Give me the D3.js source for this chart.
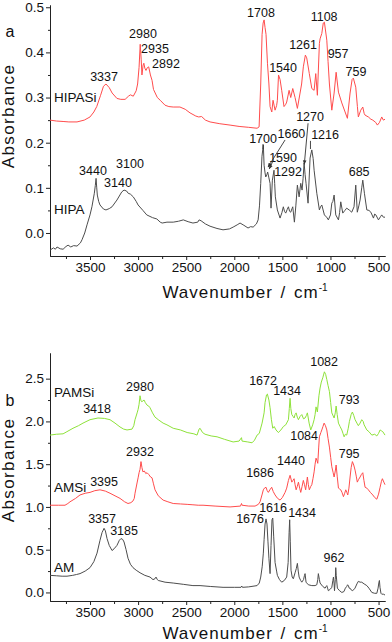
<!DOCTYPE html>
<html><head><meta charset="utf-8">
<script src="https://cdn.jsdelivr.net/npm/d3@7"></script>
<style>
html,body{margin:0;padding:0;background:#fff;}
svg{display:block;font-family:"Liberation Sans",Arial,sans-serif;}
</style></head><body>
<svg id="c" width="392" height="642"></svg>
<script>
// ---------- data (wavenumber cm-1, absorbance) ----------
const hipasi = [[3916,0.250],[3850,0.248],[3780,0.247],[3720,0.246],[3635,0.246],[3560,0.250],[3500,0.257],[3460,0.268],[3430,0.280],[3390,0.305],[3360,0.325],[3334,0.330],[3300,0.322],[3270,0.310],[3220,0.298],[3180,0.296],[3135,0.296],[3100,0.303],[3080,0.306],[3050,0.303],[3020,0.315],[3005,0.330],[2990,0.367],[2978,0.418],[2968,0.385],[2960,0.350],[2948,0.372],[2940,0.376],[2930,0.365],[2918,0.360],[2905,0.366],[2890,0.368],[2872,0.350],[2855,0.338],[2840,0.318],[2800,0.300],[2770,0.294],[2720,0.283],[2680,0.280],[2635,0.279],[2565,0.279],[2510,0.274],[2460,0.266],[2400,0.259],[2370,0.257],[2340,0.258],[2300,0.250],[2252,0.246],[2150,0.242],[2044,0.239],[1950,0.236],[1850,0.234],[1763,0.232],[1742,0.235],[1725,0.330],[1711,0.440],[1700,0.465],[1690,0.472],[1680,0.455],[1670,0.440],[1655,0.376],[1640,0.330],[1628,0.280],[1610,0.268],[1597,0.294],[1576,0.272],[1560,0.282],[1552,0.294],[1540,0.350],[1524,0.340],[1507,0.316],[1483,0.280],[1465,0.285],[1455,0.290],[1430,0.316],[1413,0.300],[1392,0.320],[1380,0.310],[1368,0.300],[1344,0.276],[1316,0.310],[1300,0.330],[1282,0.368],[1261,0.394],[1247,0.388],[1220,0.353],[1194,0.320],[1170,0.316],[1153,0.353],[1136,0.305],[1115,0.420],[1108,0.430],[1090,0.442],[1075,0.465],[1063,0.467],[1038,0.427],[1025,0.380],[1011,0.330],[986,0.272],[962,0.310],[941,0.356],[917,0.312],[882,0.288],[848,0.268],[824,0.254],[796,0.310],[775,0.340],[762,0.343],[737,0.323],[720,0.280],[710,0.257],[685,0.272],[664,0.279],[650,0.265],[640,0.261],[606,0.257],[580,0.252],[560,0.250],[530,0.245],[512,0.239],[490,0.245],[467,0.257],[450,0.250],[433,0.252]];

const hipa = [[3916,-0.038],[3880,-0.033],[3860,-0.036],[3843,-0.031],[3810,-0.035],[3780,-0.036],[3750,-0.030],[3728,-0.027],[3700,-0.031],[3670,-0.028],[3635,-0.029],[3600,-0.022],[3583,-0.015],[3555,0.000],[3531,0.018],[3500,0.040],[3480,0.058],[3455,0.088],[3445,0.105],[3437,0.121],[3430,0.100],[3424,0.084],[3410,0.070],[3396,0.062],[3360,0.053],[3334,0.051],[3300,0.054],[3271,0.058],[3220,0.073],[3170,0.091],[3146,0.095],[3120,0.093],[3103,0.088],[3080,0.086],[3050,0.080],[3020,0.070],[3000,0.062],[2950,0.050],[2910,0.040],[2850,0.034],[2805,0.031],[2770,0.024],[2750,0.022],[2700,0.024],[2635,0.024],[2580,0.026],[2530,0.029],[2480,0.025],[2430,0.022],[2380,0.024],[2366,0.029],[2345,0.027],[2300,0.020],[2252,0.015],[2180,0.010],[2117,0.007],[2050,0.009],[2012,0.013],[1970,0.018],[1940,0.022],[1900,0.017],[1857,0.011],[1830,0.014],[1804,0.013],[1770,0.020],[1752,0.029],[1738,0.060],[1725,0.110],[1712,0.170],[1698,0.195],[1690,0.150],[1680,0.133],[1673,0.124],[1660,0.130],[1653,0.135],[1640,0.122],[1628,0.110],[1618,0.055],[1604,0.117],[1587,0.139],[1580,0.110],[1573,0.080],[1552,0.051],[1524,0.033],[1505,0.045],[1490,0.058],[1478,0.048],[1465,0.044],[1450,0.052],[1437,0.058],[1425,0.048],[1413,0.046],[1400,0.054],[1392,0.058],[1375,0.024],[1360,0.060],[1344,0.106],[1326,0.080],[1309,0.110],[1295,0.095],[1285,0.120],[1274,0.155],[1264,0.130],[1254,0.110],[1233,0.066],[1212,0.166],[1194,0.184],[1180,0.165],[1170,0.139],[1142,0.088],[1115,0.051],[1103,0.058],[1090,0.062],[1063,0.040],[1040,0.035],[1022,0.029],[1000,0.040],[986,0.066],[975,0.070],[962,0.084],[945,0.040],[917,0.029],[905,0.045],[893,0.069],[872,0.044],[850,0.050],[831,0.055],[800,0.050],[779,0.046],[755,0.058],[737,0.106],[721,0.046],[705,0.060],[692,0.073],[675,0.100],[664,0.117],[647,0.088],[622,0.051],[600,0.050],[580,0.046],[553,0.033],[540,0.042],[528,0.040],[501,0.029],[480,0.036],[467,0.040],[450,0.035],[433,0.035]];

const pamsi = [[3916,1.84],[3850,1.85],[3780,1.855],[3740,1.88],[3677,1.92],[3620,1.95],[3573,1.98],[3500,2.02],[3417,2.04],[3350,2.035],[3292,2.02],[3240,1.98],[3188,1.935],[3150,1.91],[3115,1.90],[3063,1.91],[3045,1.95],[3032,2.02],[3010,2.10],[3000,2.14],[2990,2.20],[2980,2.30],[2970,2.24],[2960,2.23],[2950,2.24],[2938,2.25],[2925,2.22],[2907,2.19],[2890,2.18],[2876,2.16],[2850,2.10],[2824,2.05],[2790,2.02],[2740,1.98],[2700,1.96],[2635,1.92],[2560,1.90],[2490,1.87],[2420,1.855],[2387,1.84],[2366,1.91],[2356,1.92],[2330,1.87],[2304,1.85],[2240,1.83],[2179,1.82],[2100,1.79],[2012,1.76],[1950,1.77],[1925,1.81],[1919,1.77],[1860,1.76],[1815,1.75],[1790,1.78],[1763,1.84],[1740,1.86],[1711,1.98],[1690,2.10],[1680,2.22],[1665,2.31],[1656,2.32],[1640,2.25],[1628,2.16],[1614,2.02],[1600,1.92],[1585,1.94],[1566,1.90],[1542,1.87],[1515,1.90],[1490,1.94],[1465,1.96],[1437,2.02],[1428,2.15],[1420,2.27],[1412,2.15],[1402,2.08],[1390,2.06],[1378,2.04],[1368,2.08],[1357,2.10],[1345,2.05],[1333,2.02],[1315,2.06],[1298,2.08],[1280,2.03],[1264,2.04],[1250,2.07],[1240,2.10],[1222,1.98],[1205,1.90],[1185,1.96],[1170,2.02],[1160,2.08],[1150,2.17],[1136,2.11],[1120,2.30],[1108,2.39],[1095,2.46],[1080,2.51],[1063,2.58],[1050,2.55],[1038,2.49],[1025,2.42],[1011,2.35],[998,2.22],[986,2.10],[962,2.04],[950,2.10],[941,2.18],[930,2.08],[917,1.98],[900,1.94],[882,1.90],[870,1.86],[858,1.82],[845,1.85],[831,1.84],[815,1.92],[803,2.00],[785,2.08],[772,2.11],[758,2.07],[744,2.02],[725,1.98],[710,1.95],[692,1.98],[675,2.02],[660,2.00],[650,1.96],[622,1.90],[600,1.88],[570,1.84],[540,1.85],[518,1.83],[500,1.86],[484,1.90],[470,1.89],[456,1.88],[433,1.84]];

const amsi = [[3916,1.02],[3830,1.02],[3760,1.02],[3730,1.04],[3708,1.06],[3650,1.10],[3604,1.14],[3550,1.16],[3500,1.17],[3450,1.19],[3396,1.20],[3340,1.185],[3292,1.16],[3240,1.13],[3188,1.10],[3140,1.06],[3105,1.04],[3075,1.05],[3053,1.07],[3040,1.10],[3032,1.16],[3011,1.28],[3000,1.34],[2990,1.40],[2980,1.44],[2970,1.53],[2960,1.46],[2950,1.41],[2935,1.42],[2920,1.39],[2907,1.40],[2890,1.38],[2870,1.35],[2855,1.34],[2840,1.27],[2824,1.20],[2790,1.13],[2740,1.08],[2690,1.06],[2635,1.04],[2560,1.035],[2490,1.03],[2430,1.025],[2375,1.02],[2325,1.02],[2200,1.01],[2044,1.00],[1935,1.01],[1925,1.04],[1919,1.02],[1850,1.01],[1784,1.01],[1750,1.03],[1732,1.06],[1712,1.14],[1698,1.20],[1686,1.22],[1670,1.23],[1658,1.19],[1646,1.17],[1630,1.20],[1611,1.23],[1595,1.18],[1576,1.14],[1550,1.10],[1524,1.08],[1500,1.11],[1472,1.17],[1455,1.22],[1437,1.31],[1420,1.37],[1402,1.29],[1390,1.31],[1378,1.33],[1368,1.26],[1357,1.20],[1345,1.24],[1333,1.29],[1320,1.22],[1309,1.17],[1295,1.24],[1282,1.31],[1270,1.26],[1258,1.20],[1248,1.28],[1240,1.35],[1230,1.26],[1220,1.20],[1205,1.24],[1194,1.26],[1182,1.33],[1170,1.41],[1160,1.50],[1150,1.57],[1140,1.54],[1132,1.51],[1122,1.70],[1115,1.82],[1100,1.87],[1090,1.90],[1078,1.94],[1066,1.98],[1052,1.95],[1038,1.90],[1025,1.80],[1011,1.70],[998,1.58],[986,1.47],[972,1.40],[962,1.35],[950,1.42],[941,1.49],[930,1.36],[917,1.22],[905,1.21],[893,1.20],[880,1.17],[865,1.12],[852,1.16],[841,1.20],[830,1.17],[820,1.14],[808,1.22],[796,1.35],[785,1.46],[772,1.53],[758,1.49],[744,1.43],[732,1.36],[721,1.29],[708,1.32],[692,1.35],[678,1.38],[664,1.40],[652,1.31],[640,1.23],[622,1.22],[606,1.20],[585,1.17],[560,1.14],[540,1.11],[518,1.09],[500,1.15],[484,1.23],[470,1.30],[460,1.33],[445,1.29],[433,1.26]];

const am = [[3916,0.20],[3850,0.195],[3790,0.19],[3739,0.19],[3680,0.20],[3640,0.21],[3604,0.22],[3550,0.25],[3500,0.29],[3460,0.36],[3427,0.46],[3396,0.61],[3375,0.70],[3354,0.75],[3340,0.72],[3323,0.63],[3300,0.55],[3271,0.49],[3250,0.51],[3220,0.55],[3195,0.61],[3178,0.63],[3160,0.62],[3146,0.59],[3125,0.50],[3105,0.40],[3080,0.33],[3053,0.29],[3020,0.26],[2980,0.23],[2930,0.20],[2876,0.18],[2845,0.15],[2825,0.16],[2814,0.18],[2800,0.15],[2790,0.14],[2720,0.12],[2635,0.11],[2530,0.095],[2430,0.08],[2356,0.08],[2250,0.07],[2117,0.06],[2000,0.06],[1930,0.06],[1922,0.075],[1915,0.06],[1850,0.065],[1763,0.08],[1740,0.11],[1725,0.18],[1710,0.30],[1698,0.46],[1690,0.62],[1680,0.80],[1670,0.86],[1660,0.80],[1650,0.60],[1640,0.40],[1628,0.22],[1618,0.55],[1608,0.85],[1600,0.87],[1590,0.65],[1576,0.35],[1560,0.25],[1552,0.20],[1530,0.15],[1507,0.12],[1480,0.14],[1455,0.18],[1440,0.35],[1430,0.70],[1424,0.85],[1418,0.60],[1410,0.26],[1398,0.18],[1386,0.16],[1368,0.23],[1355,0.28],[1344,0.34],[1335,0.25],[1326,0.18],[1310,0.14],[1298,0.12],[1280,0.15],[1270,0.20],[1264,0.22],[1254,0.12],[1230,0.09],[1194,0.08],[1160,0.08],[1142,0.09],[1132,0.15],[1126,0.22],[1115,0.15],[1108,0.11],[1080,0.07],[1056,0.05],[1045,0.07],[1038,0.08],[1030,0.05],[1022,0.02],[1000,0.04],[986,0.06],[975,0.14],[969,0.18],[962,0.10],[958,0.02],[950,0.15],[945,0.29],[940,0.20],[928,0.05],[905,0.02],[882,0.00],[860,0.01],[845,0.05],[831,0.07],[822,0.09],[814,0.08],[805,0.05],[796,0.05],[785,0.03],[769,0.02],[745,0.05],[725,0.10],[710,0.13],[692,0.12],[675,0.12],[650,0.10],[622,0.08],[600,0.05],[570,0.00],[540,-0.01],[518,-0.01],[505,0.05],[496,0.12],[491,0.14],[485,0.06],[475,-0.01],[467,-0.02],[450,-0.02],[433,-0.03]];

const xTicksMajor = [3500,3000,2500,2000,1500,1000,500];
const xTicksMinor = [3750,3250,2750,2250,1750,1250,750];
const yTicksA = [0.0,0.1,0.2,0.3,0.4,0.5];
const yTicksAMinor = [0.05,0.15,0.25,0.35,0.45];
const yTicksB = [0.0,0.5,1.0,1.5,2.0,2.5];
const yTicksBMinor = [0.25,0.75,1.25,1.75,2.25];

const seriesNamesA = [["HIPASi",0.30],["HIPA",0.053]];
const seriesNamesB = [["PAMSi",2.34],["AMSi",1.23],["AM",0.29]];

const peaksA = [["3337",3354,0.347],["2980",2949,0.442],["2935",2824,0.408],["2892",2710,0.376],["1708",1722,0.489],["1108",1066,0.48],["1261",1285,0.418],["957",921,0.398],["1540",1493,0.367],["759",734,0.358],["3440",3469,0.139],["3100",3084,0.153],["3140",3209,0.111],["1700",1701,0.21],["1660",1406,0.221],["1270",1212,0.257],["1216",1056,0.217],["1590",1493,0.168],["1292",1441,0.135],["685",702,0.135]];
const leadersA = [[1701,0.197,1701,0.186,0],[1472,0.206,1649,0.146,1],[1597,0.160,1636,0.142,1],[1233,0.243,1272,0.152,1],[1208,0.204,1208,0.186,0]];
const peaksB = [["3418",3427,2.15],["2980",2980,2.41],["1672",1701,2.48],["1434",1451,2.36],["1082",1066,2.70],["793",806,2.26],["3395",3354,1.30],["2932",2980,1.65],["1686",1732,1.40],["1440",1410,1.54],["1084",1274,1.83],["795",806,1.62],["3357",3375,0.86],["3185",3146,0.72],["1676",1836,0.86],["1616",1597,0.99],["1434",1295,0.93],["962",963,0.41]];

// ---------- drawing ----------
const RED="#ff4c4c", GRAY="#4d4d4d", GREEN="#8ee23a";
const svg = d3.select("#c");
svg.append("defs").append("marker").attr("id","arr").attr("viewBox","0 0 10 10")
  .attr("refX",9).attr("refY",5).attr("markerWidth",5).attr("markerHeight",5).attr("orient","auto")
  .append("path").attr("d","M0,1L10,5L0,9Z").attr("fill","#333");

const x = d3.scaleLinear().domain([3916,433]).range([50,385]);

function panel(y, yMaj, yMin, fmt, series, names, peaks, leaders, letter, letterY, absY, titleY){
  const g = svg.append("g");
  const y0 = y.range()[0];
  g.append("g").attr("transform",`translate(0,${y0})`)
    .call(d3.axisBottom(x).tickValues(xTicksMajor).tickFormat(d3.format("d")).tickSize(4).tickSizeOuter(0).tickPadding(2));
  g.append("g").attr("transform",`translate(0,${y0})`)
    .call(d3.axisBottom(x).tickValues(xTicksMinor).tickFormat("").tickSize(3).tickSizeOuter(0));
  g.append("g").attr("transform","translate(50,0)")
    .call(d3.axisLeft(y).tickValues(yMaj).tickFormat(fmt).tickSize(4).tickSizeOuter(0).tickPadding(2));
  g.append("g").attr("transform","translate(50,0)")
    .call(d3.axisLeft(y).tickValues(yMin).tickFormat("").tickSize(2).tickSizeOuter(0));
  g.selectAll(".domain, .tick line").attr("stroke","#222");
  g.selectAll(".tick text").attr("font-size","13.5px").attr("fill","#111")
    .attr("font-family",'"Liberation Sans",Arial,sans-serif');
  const line = d3.line().x(d=>x(d[0])).y(d=>y(d[1]));
  series.forEach(s=>{
    g.append("path").datum(s.data).attr("d",line).attr("fill","none")
     .attr("stroke",s.color).attr("stroke-width",1).attr("stroke-linejoin","round");
  });
  names.forEach(n=>{
    g.append("text").attr("x",x(3874)).attr("y",y(n[1])).attr("dy","0.35em")
     .attr("font-size","13.5px").attr("fill","#111").text(n[0]);
  });
  peaks.forEach(p=>{
    g.append("text").attr("x",x(p[1])).attr("y",y(p[2])).attr("dy","0.35em")
     .attr("text-anchor","middle").attr("font-size","12.5px").attr("fill","#111").text(p[0]);
  });
  leaders.forEach(l=>{
    const ln = g.append("line").attr("x1",x(l[0])).attr("y1",y(l[1])).attr("x2",x(l[2])).attr("y2",y(l[3]))
      .attr("stroke","#333").attr("stroke-width",0.9);
    if(l[4]) ln.attr("marker-end","url(#arr)");
  });
  g.append("text").attr("x",10).attr("y",letterY).attr("dy","0.35em").attr("text-anchor","middle")
    .attr("font-size","16px").attr("fill","#111").text(letter);
  g.append("text").attr("transform",`translate(14,${absY}) rotate(-90)`).attr("text-anchor","middle")
    .attr("font-size","17px").attr("letter-spacing","1.4px").attr("fill","#111").text("Absorbance");
  const t = g.append("text").attr("x",245).attr("y",titleY).attr("text-anchor","middle")
    .attr("font-size","17px").attr("letter-spacing","1px").attr("word-spacing","2px").attr("fill","#111");
  t.append("tspan").text("Wavenumber / cm");
  t.append("tspan").attr("dy",-7).attr("font-size","10px").attr("letter-spacing","0px").text("-1");
}

const yA = d3.scaleLinear().domain([-0.051,0.505]).range([256,5]);
const yB = d3.scaleLinear().domain([-0.1,2.8]).range([601,353]);

panel(yA, yTicksA, yTicksAMinor, d3.format(".1f"),
  [{data:hipasi,color:RED},{data:hipa,color:GRAY}], seriesNamesA, peaksA, leadersA, "a", 31, 116, 298);
panel(yB, yTicksB, yTicksBMinor, d3.format(".1f"),
  [{data:pamsi,color:GREEN},{data:amsi,color:RED},{data:am,color:GRAY}], seriesNamesB, peaksB, [], "b", 400, 470, 639);
</script>
</body></html>
